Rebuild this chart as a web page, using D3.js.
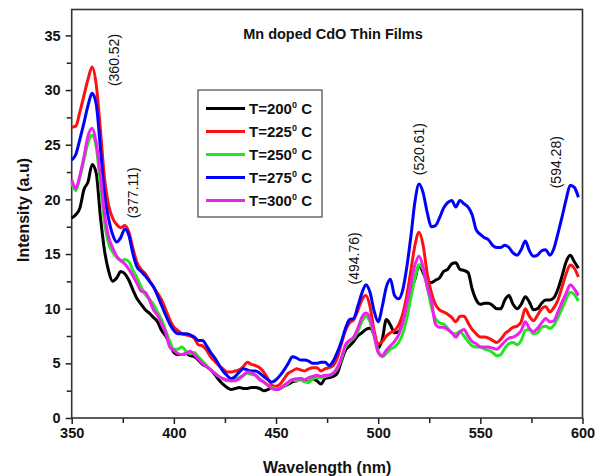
<!DOCTYPE html>
<html><head><meta charset="utf-8">
<script src="https://cdn.jsdelivr.net/npm/d3@7"></script>
<style>body{margin:0;background:#fff}svg{display:block;font-family:Arial,"Liberation Sans",sans-serif}</style>
</head><body><svg id="c" width="607" height="476"></svg>
<script>
const wavelengths = d3.range(350, 600, 2);
const t200 = [18.3,18.6,19.2,20.9,21.6,23.2,22.4,18.5,15.4,13.5,
12.5,12.8,13.4,13.2,12.6,11.7,10.9,10.4,9.9,9.6,
9.2,8.8,8.0,7.5,6.8,6.0,5.8,5.8,5.9,5.7,
5.6,5.3,4.9,4.7,4.4,4.0,3.5,3.1,2.8,2.6,
2.7,2.8,2.7,2.7,2.8,2.8,2.7,2.5,2.6,2.8,
2.6,2.7,2.9,3.1,3.3,3.4,3.6,3.4,3.3,3.6,
3.4,3.1,3.6,3.7,3.8,4.1,5.2,6.2,6.6,7.0,
7.5,7.8,8.1,8.2,7.6,6.4,7.2,9.0,8.5,7.8,
7.9,8.8,10.6,11.8,12.7,14.0,13.3,12.5,12.4,12.6,
12.8,13.4,13.6,14.1,14.2,13.6,13.5,13.3,11.8,10.8,
10.4,10.5,10.5,10.3,10.0,10.0,10.8,11.2,10.4,10.0,
10.4,11.1,10.6,9.9,10.0,10.5,10.8,10.8,11.0,11.8,
13.0,14.3,14.9,14.3,13.7];
const t225 = [26.6,26.7,28.0,29.5,31.0,32.1,30.5,26.5,22.0,19.5,
18.3,17.7,17.4,17.6,17.0,15.5,14.2,13.6,13.2,12.6,
12.0,11.4,10.8,9.9,9.0,8.3,8.0,7.7,7.6,7.5,
7.3,6.7,6.6,6.2,5.6,5.2,4.8,4.5,4.2,4.2,
4.3,4.4,4.7,5.1,4.9,4.8,4.6,4.2,3.6,3.0,
2.9,3.1,3.6,4.1,4.3,4.5,4.4,4.3,4.5,4.6,
4.6,4.3,4.5,4.6,4.8,5.5,6.8,8.0,8.7,9.0,
9.8,10.8,11.2,10.2,8.0,6.8,7.0,7.5,7.8,8.0,
8.5,9.5,11.2,13.5,15.8,17.0,15.8,13.2,11.5,10.4,
9.9,9.7,9.5,9.2,8.8,9.3,9.3,8.7,8.1,7.7,
7.4,7.4,7.3,7.1,6.9,7.2,7.7,8.0,8.3,8.4,
8.8,10.0,9.3,8.9,9.4,10.0,10.2,9.7,10.1,10.8,
12.0,13.2,14.0,13.7,12.9];
const t250 = [21.5,20.8,22.0,23.6,25.2,25.9,24.8,21.5,18.0,16.0,
15.2,14.7,14.4,14.5,14.3,13.5,12.8,12.0,11.3,10.9,
10.4,9.7,9.0,8.0,7.0,6.3,6.3,6.5,6.1,5.9,
6.0,5.6,5.2,4.8,4.4,4.1,3.8,3.6,3.4,3.4,
3.5,3.7,3.9,4.1,4.0,3.9,3.6,3.3,3.0,2.8,
2.7,2.7,2.9,3.2,3.5,3.4,3.5,3.3,3.3,3.6,
3.7,3.7,3.8,3.9,4.1,4.5,5.4,6.5,7.0,7.3,
7.9,8.8,9.3,8.8,7.5,6.1,5.6,5.9,6.3,6.5,
6.9,7.7,9.1,11.0,12.8,14.0,13.6,12.0,10.2,9.1,
8.7,8.6,8.2,7.8,7.7,7.9,7.5,7.0,6.6,6.5,
6.5,6.3,6.2,6.0,5.7,5.8,6.4,6.8,6.9,6.7,
7.1,8.0,8.1,7.7,7.8,8.3,8.4,8.2,8.5,9.2,
10.0,10.9,11.5,11.3,10.7];
const t275 = [23.6,24.1,25.5,27.0,28.6,29.7,28.7,24.8,20.5,18.3,
16.8,16.1,16.5,17.3,16.7,15.0,13.8,13.4,13.0,12.5,
12.0,11.2,10.3,9.4,8.6,8.0,7.7,7.7,7.7,7.6,
7.4,7.1,7.1,6.6,6.0,5.5,4.9,4.3,3.9,3.6,
3.8,4.2,4.5,4.4,4.3,4.3,4.1,3.8,3.5,3.3,
3.5,3.9,4.4,5.0,5.6,5.5,5.3,5.3,5.2,5.0,
5.0,5.1,5.1,4.8,5.2,6.0,7.0,8.2,9.0,9.1,
10.2,11.4,12.2,11.5,9.8,8.8,10.2,12.0,12.7,11.2,
10.9,11.7,13.8,16.6,19.8,21.4,20.6,18.8,17.5,17.6,
18.3,19.2,19.7,19.9,19.3,19.9,19.6,19.3,18.6,17.2,
16.8,16.5,16.3,15.8,15.6,15.6,15.8,15.6,15.1,14.9,
15.4,16.2,15.3,14.8,14.9,15.3,15.4,14.9,15.5,16.9,
18.4,20.0,21.3,21.1,20.2];
const t300 = [21.8,21.0,22.2,23.9,25.8,26.5,25.2,22.3,18.8,16.6,
15.6,14.8,14.4,14.1,13.6,13.0,12.3,11.6,11.5,10.8,
9.9,9.4,8.6,7.8,6.5,6.2,5.9,5.8,5.9,6.1,
5.8,5.4,5.0,4.7,4.4,4.1,3.8,3.6,3.5,3.4,
3.4,3.6,3.9,4.2,4.1,3.9,3.5,3.3,3.0,2.7,
2.6,2.7,3.0,3.3,3.5,3.6,3.6,3.5,3.7,3.8,
3.9,3.8,3.9,3.9,4.1,4.6,5.5,6.7,7.1,7.4,
8.2,9.2,9.6,9.1,7.6,6.0,5.7,6.2,6.6,7.0,
7.6,8.7,10.4,12.3,14.0,14.8,13.8,12.0,10.8,8.6,
8.3,8.3,8.1,7.8,7.4,7.9,8.1,7.5,7.0,6.8,
6.5,6.5,6.5,6.4,6.3,6.6,7.0,7.3,7.4,7.6,
8.0,8.8,8.2,7.9,8.2,8.7,9.1,8.8,8.9,9.7,
10.6,11.4,12.2,11.8,11.2];

const seriesNames = ["200", "225", "250", "275", "300"];
const seriesValues = [t200, t225, t250, t275, t300];
const seriesColors = ["#000000", "#ff1010", "#22e622", "#0000ff", "#ee20ee"];
const xTicks = [350, 400, 450, 500, 550, 600];
const yTicks = [0, 5, 10, 15, 20, 25, 30, 35];
const peakLabels = ["(360.52)", "(377.11)", "(494.76)", "(520.61)", "(594.28)"];
const peakLabelX = [370.7, 380.0, 488.1, 519.9, 586.9];
const peakLabelY = [32.75, 20.6, 14.6, 24.6, 23.4];

const svg = d3.select("#c");
const L = 71.7, R = 582.5, T = 9.5, B = 418;
const x = d3.scaleLinear().domain([350, 600]).range([L, R]);
const y = d3.scaleLinear().domain([0, 37.37]).range([B, T]);

const gx = svg.append("g").attr("transform", `translate(0,${B})`);
gx.call(d3.axisBottom(x).tickValues(d3.range(375, 600, 50)).tickSize(5).tickFormat(""));
const gx2 = svg.append("g").attr("transform", `translate(0,${B})`);
gx2.call(d3.axisBottom(x).tickValues(xTicks).tickSize(6).tickPadding(4).tickFormat(d3.format("d")));
const gy = svg.append("g").attr("transform", `translate(${L},0)`);
gy.call(d3.axisLeft(y).tickValues(d3.range(2.5, 37, 5)).tickSize(5).tickFormat(""));
const gy2 = svg.append("g").attr("transform", `translate(${L},0)`);
gy2.call(d3.axisLeft(y).tickValues(yTicks).tickSize(6).tickPadding(5).tickFormat(d3.format("d")));
svg.selectAll(".domain").remove();
svg.selectAll(".tick line").attr("stroke", "#222").attr("stroke-width", 1.5);
svg.selectAll(".tick text").attr("font-size", 14.5).attr("font-weight", "bold").attr("fill", "#111")
  .attr("font-family", "Arial, 'Liberation Sans', sans-serif");

svg.append("rect").attr("x", L).attr("y", T).attr("width", R - L).attr("height", B - T)
  .attr("fill", "none").attr("stroke", "#333").attr("stroke-width", 1.6);

const line = d3.line().x((d, i) => x(wavelengths[i])).y(d => y(d)).curve(d3.curveMonotoneX);
seriesValues.forEach((vals, k) => {
  svg.append("path").datum(vals).attr("d", line).attr("fill", "none")
    .attr("stroke", seriesColors[k]).attr("stroke-width", 3).attr("stroke-linejoin", "round");
});

svg.append("text").attr("x", 333).attr("y", 39).attr("text-anchor", "middle")
  .attr("font-size", 14.5).attr("font-weight", "bold").attr("fill", "#111").text("Mn doped CdO Thin Films");

svg.append("text").attr("x", (L + R) / 2).attr("y", 473).attr("text-anchor", "middle")
  .attr("font-size", 16).attr("font-weight", "bold").attr("fill", "#111").text("Wavelength (nm)");
svg.append("text").attr("transform", "translate(29,210) rotate(-90)").attr("text-anchor", "middle")
  .attr("font-size", 16).attr("font-weight", "bold").attr("fill", "#111").text("Intensity (a.u)");

peakLabels.forEach((lab, i) => {
  svg.append("text").attr("transform", `translate(${x(peakLabelX[i])},${y(peakLabelY[i])}) rotate(-90)`)
    .attr("text-anchor", "middle").attr("dominant-baseline", "central")
    .attr("font-size", 14).attr("fill", "#111").text(lab);
});

const lg = svg.append("g");
lg.append("rect").attr("x", 198).attr("y", 90).attr("width", 124).attr("height", 127)
  .attr("fill", "#fff").attr("stroke", "#444").attr("stroke-width", 1.2);
seriesNames.forEach((n, k) => {
  const yy = 108.5 + k * 23;
  lg.append("line").attr("x1", 206).attr("x2", 245).attr("y1", yy).attr("y2", yy)
    .attr("stroke", seriesColors[k]).attr("stroke-width", 3);
  const t = lg.append("text").attr("x", 249).attr("y", yy + 5).attr("font-size", 15)
    .attr("font-weight", "bold").attr("fill", "#111");
  t.append("tspan").text("T=" + n);
  t.append("tspan").attr("font-size", 9).attr("dy", -6).text("0");
  t.append("tspan").attr("dy", 6).text(" C");
});
</script></body></html>
